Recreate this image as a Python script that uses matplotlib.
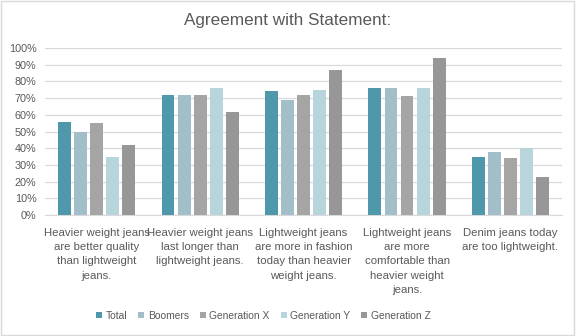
"""Agreement with Statement: grouped bar chart."""

import matplotlib
matplotlib.use("Agg")
import matplotlib.pyplot as plt
import numpy as np
from matplotlib.patches import Rectangle
from matplotlib.ticker import PercentFormatter

categories = [
    "Heavier weight jeans\nare better quality\nthan lightweight\njeans.",
    "Heavier weight jeans\nlast longer than\nlightweight jeans.",
    "Lightweight jeans\nare more in fashion\ntoday than heavier\nweight jeans.",
    "Lightweight jeans\nare more\ncomfortable than\nheavier weight\njeans.",
    "Denim jeans today\nare too lightweight.",
]
series_names = ["Total", "Boomers", "Generation X", "Generation Y", "Generation Z"]
total = [0.56, 0.72, 0.74, 0.76, 0.35]
boomers = [0.50, 0.72, 0.69, 0.76, 0.38]
gen_x = [0.55, 0.72, 0.72, 0.71, 0.34]
gen_y = [0.35, 0.76, 0.75, 0.76, 0.40]
gen_z = [0.42, 0.62, 0.87, 0.94, 0.23]

colors = ["#4F97AB", "#A2BFC9", "#A5A5A5", "#B9D5DC", "#979797"]
text_color = "#595959"

plt.rcParams["font.family"] = ["Liberation Sans", "DejaVu Sans"]

fig = plt.figure(figsize=(5.76, 3.36), dpi=100)
ax = fig.add_axes([0.078, 0.36, 0.898, 0.497])

x = np.arange(len(categories))
width = 0.125
step = 0.155
for i, (name, values) in enumerate(zip(series_names, [total, boomers, gen_x, gen_y, gen_z])):
    ax.bar(x + (i - 2) * step, values, width, color=colors[i], label=name, zorder=3)

ax.set_xlim(-0.5, len(categories) - 0.5)
ax.set_ylim(0, 1.0)
ax.set_yticks(np.arange(0, 1.01, 0.1))
ax.yaxis.set_major_formatter(PercentFormatter(1.0, decimals=0))
ax.set_xticks(x)
ax.set_xticklabels(categories, fontsize=8.2, color=text_color, linespacing=1.55)
ax.tick_params(axis="y", labelsize=7.8, colors=text_color, length=0, pad=6)
ax.tick_params(axis="x", length=0, pad=9)
ax.grid(axis="y", color="#D9D9D9", linewidth=0.9, zorder=0)
for side in ["top", "right", "left"]:
    ax.spines[side].set_visible(False)
ax.spines["bottom"].set_color("#D9D9D9")

fig.text(0.5, 0.94, "Agreement with Statement:", ha="center", va="center",
         fontsize=12.3, color=text_color)

ax.legend(loc="center", bbox_to_anchor=(0.457, 0.06), bbox_transform=fig.transFigure,
          ncol=5, frameon=False, fontsize=7.4, handlelength=0.6, handleheight=0.6,
          handletextpad=0.35, columnspacing=1.05, labelcolor=text_color)

fig.patches.append(Rectangle((0.002, 0.003), 0.995, 0.993, transform=fig.transFigure,
                             fill=False, edgecolor="#D9D9D9", linewidth=1))

fig.savefig("out.png", dpi=100)
